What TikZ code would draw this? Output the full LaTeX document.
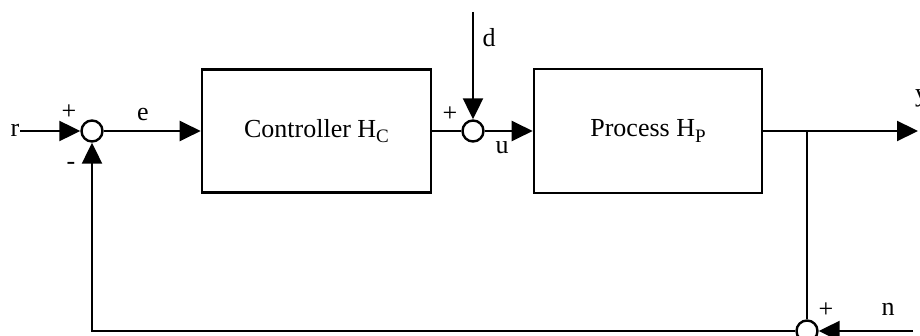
\documentclass[tikz,border=0pt]{standalone}
\usepackage{fontspec}
\setmainfont{Liberation Serif}
\usetikzlibrary{arrows.meta}
\newcommand{\subl}[1]{\raisebox{-0.22em}{\fontsize{19}{19}\selectfont #1}}
\begin{document}
\begin{tikzpicture}[x=1pt,y=-1pt,line width=2.2pt,
  >={Triangle[length=21pt,width=20pt]},
  every node/.style={font=\fontsize{26}{28}\selectfont},
  sum/.style={circle,draw,minimum size=21pt,inner sep=0pt,line width=2.4pt},
  block/.style={draw,line width=2.6pt,inner sep=0pt},
  lbl/.style={inner sep=0pt},
  sgn/.style={inner sep=0pt,font=\fontsize{26}{28}\selectfont}]
\useasboundingbox (0,0) rectangle (920,336);
% blocks
\node[block,minimum width=229pt,minimum height=123pt] (C) at (316.5,131) {Controller H\subl{C}};
\node[block,minimum width=228pt,minimum height=124pt] (P) at (648,131) {Process H\subl{P}};
% summing junctions
\node[sum] (s1) at (92,131) {};
\node[sum] (s2) at (473,131) {};
\node[sum] (s3) at (807,331) {};
% labels
\node[lbl] (r) at (15,130) {r};
\node[lbl] (e) at (143,115) {e};
\node[lbl] (d) at (489,38) {d};
\node[lbl] (u) at (502,148) {u};
\node[lbl] (n) at (888,309) {n};
\node[lbl,anchor=west] (y) at (914,98) {y};
\node[sgn] (p1) at (69,112) {+};
\node[sgn] (m1) at (71,166) {-};
\node[sgn] (p2) at (450,114) {+};
\node[sgn] (p3) at (826,310) {+};
% coordinates
\coordinate (dtop) at (473,12);
\coordinate (yend) at (918,131);
\coordinate (branch) at (807,131);
\coordinate (nstart) at (913,331);
% connectors
\draw[->] (r.east |- s1) -- (s1.west);
\draw[->] (s1.east) -- (C.west);
\draw (C.east) -- (s2.west);
\draw[->] (dtop) -- (s2.north);
\draw[->] (s2.east) -- (P.west);
\draw[->] (P.east) -- (yend);
\draw (branch) -- (s3.north);
\draw[->] (nstart) -- (s3.east);
\draw[->] (s3.west) -| (s1.south);
\end{tikzpicture}
\end{document}
